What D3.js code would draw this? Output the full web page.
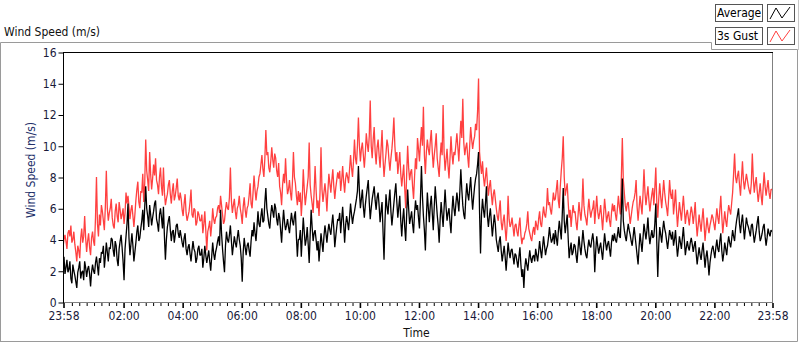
<!DOCTYPE html>
<html><head><meta charset="utf-8">
<script src="https://cdn.jsdelivr.net/npm/d3@7/dist/d3.min.js"></script>
<style>
html,body{margin:0;padding:0;background:#fff;}
svg{display:block;}
text{font-family:"DejaVu Sans Condensed","DejaVu Sans",sans-serif;font-size:12px;}
</style></head>
<body>
<svg id="c" width="800" height="342"></svg>
<script>
// ---- data (one sample every 2 minutes, 23:58 -> 23:58 next day) ----
const seriesNames = ["Average", "3s Gust"];
const yTicks = [0, 2, 4, 6, 8, 10, 12, 14, 16];
const xTickLabels = ["23:58","02:00","04:00","06:00","08:00","10:00","12:00","14:00","16:00","18:00","20:00","22:00","23:58"];
const sampleMinutes = 2;
const average = [
2.4,2.9,1.8,2.2,2.7,1.9,2.1,2.6,1.5,1.2,2.4,2.0,1.7,1.3,0.9,1.9,2.2,2.6,1.5,1.9,
2.0,1.4,2.6,2.2,1.6,2.1,2.3,1.8,1.0,1.9,2.4,2.0,1.8,2.5,2.9,2.3,1.7,2.8,2.5,3.2,
3.1,3.6,2.2,2.9,3.8,3.2,2.6,3.5,3.4,4.1,4.0,3.3,2.9,3.9,3.6,2.7,2.3,3.4,3.9,4.3,
3.5,2.6,1.4,3.4,4.2,5.0,6.3,4.1,3.0,3.7,4.4,3.6,2.6,3.2,3.8,4.5,4.9,3.9,4.1,4.7,
5.2,5.9,4.6,6.1,7.4,6.0,5.5,4.8,6.2,5.6,4.9,5.4,5.8,6.3,6.5,5.3,5.0,4.5,5.6,6.0,
5.4,4.7,6.1,4.2,2.7,4.0,4.8,5.2,5.5,4.6,3.9,4.5,4.6,3.8,4.3,4.9,5.0,4.4,4.1,4.6,
4.2,3.8,3.5,4.1,4.4,3.4,3.0,3.5,3.7,3.1,2.6,3.3,3.9,3.4,3.2,2.5,2.8,3.4,3.6,3.0,
3.0,3.4,2.2,2.8,3.6,3.0,2.5,2.9,3.3,2.6,2.0,2.9,3.8,3.1,2.7,3.2,3.5,3.9,4.2,3.6,
5.9,4.4,3.4,2.6,1.9,3.6,4.5,4.0,3.8,4.3,4.9,3.9,3.0,3.6,4.2,3.8,3.5,4.1,4.6,4.0,
3.6,2.8,1.3,3.2,4.1,3.5,3.0,3.6,3.8,3.3,2.9,3.9,4.6,4.2,5.1,4.4,3.9,4.8,5.8,5.0,
4.8,5.5,6.0,5.1,5.2,6.4,7.3,6.0,5.5,5.0,4.7,5.6,6.2,5.8,5.4,6.3,6.0,5.3,4.9,5.7,
5.4,4.6,3.8,5.0,5.9,5.1,4.6,4.9,5.3,4.8,4.4,5.1,5.7,5.2,4.9,5.5,5.8,4.2,2.9,4.0,
4.0,4.6,2.9,4.2,5.4,4.5,3.6,4.0,4.8,3.7,2.5,4.3,5.9,4.8,3.9,4.4,4.6,4.0,3.3,3.9,
2.6,3.5,4.4,3.8,3.2,4.2,4.9,4.4,3.8,4.5,5.0,4.6,4.3,5.0,5.6,4.7,3.5,4.2,4.8,5.3,
5.2,5.7,4.4,5.3,6.1,5.0,3.8,4.9,5.5,5.1,4.6,5.4,6.3,5.6,5.0,5.5,5.8,6.2,6.6,7.1,
8.7,7.1,6.0,6.6,7.2,6.1,5.4,6.2,6.8,7.3,7.8,6.4,5.3,6.0,6.6,7.0,7.4,6.5,5.9,6.7,
7.0,6.2,5.1,5.8,6.4,4.5,2.7,5.2,6.9,6.1,5.6,6.5,7.2,5.8,4.9,5.6,6.3,7.0,7.6,6.4,
5.4,6.1,6.8,5.2,4.2,5.3,6.0,4.8,3.9,5.6,7.2,6.0,5.0,5.4,5.8,5.0,4.4,5.7,6.5,5.9,
6.2,5.4,4.7,6.6,8.7,6.8,5.5,4.6,3.3,5.4,7.0,6.0,5.1,6.2,6.8,5.7,4.6,6.1,7.4,6.5,
5.6,4.9,3.8,5.3,6.4,5.6,4.8,6.0,7.2,6.1,5.2,5.7,6.0,5.1,4.4,5.8,6.8,6.0,5.5,6.3,
7.0,6.4,5.8,7.1,8.5,7.2,6.2,5.6,5.3,6.6,7.6,6.9,6.5,7.3,8.0,6.8,5.9,6.7,7.4,7.9,
8.2,8.8,9.6,5.8,3.1,5.6,6.6,5.9,5.4,6.3,7.4,5.5,4.8,5.5,6.0,5.1,4.2,4.9,5.6,5.0,
4.0,3.6,3.2,3.9,4.2,3.3,2.6,3.1,3.6,2.9,2.0,2.9,3.8,3.2,2.8,3.3,3.4,2.9,2.4,3.1,
3.0,2.6,2.2,2.9,3.5,2.4,1.6,2.1,0.9,2.2,2.8,2.4,2.0,2.7,3.3,2.8,2.5,2.9,3.0,2.6,
3.4,3.0,2.6,3.2,3.9,3.3,2.8,3.5,4.2,3.6,3.0,3.4,3.6,4.1,4.8,4.2,3.8,4.0,4.4,3.7,
4.6,4.1,3.6,4.5,5.2,4.6,4.0,5.6,7.3,5.2,4.4,5.0,5.6,4.1,2.8,3.4,3.8,3.0,3.2,3.7,
3.6,3.0,2.5,3.4,4.2,3.5,3.0,3.8,4.6,3.9,3.4,3.0,2.8,3.5,4.0,3.6,3.5,4.0,4.4,3.8,
1.9,3.3,4.2,3.6,3.1,3.5,3.8,3.2,2.7,3.6,4.4,3.8,3.3,3.7,3.9,3.4,2.9,3.8,4.3,3.9,
4.4,4.0,3.8,4.3,4.8,4.2,4.1,5.8,7.9,5.2,4.6,4.2,3.9,4.5,5.0,4.6,4.3,3.9,3.6,4.2,
4.8,4.2,3.6,3.0,2.4,3.5,4.4,3.8,3.2,4.1,5.0,4.5,4.0,4.6,5.4,4.3,3.7,4.2,4.6,4.1,
4.2,5.0,6.3,3.8,1.6,3.7,4.8,4.3,3.8,4.6,5.2,4.7,4.4,3.9,3.4,4.0,4.6,4.3,4.0,4.5,
3.6,4.0,4.6,3.7,2.9,3.5,4.2,3.8,3.4,4.1,4.8,3.9,3.0,3.5,3.9,3.5,3.3,3.8,4.1,3.7,
3.2,3.6,3.9,3.1,2.4,3.0,3.5,3.0,2.7,3.3,3.8,3.0,2.2,2.9,3.3,2.6,1.7,2.5,3.0,3.4,
3.6,3.2,2.8,3.5,4.0,3.4,3.2,3.9,4.4,3.3,2.6,3.1,3.8,3.4,3.0,3.7,4.2,3.8,3.5,4.0,
4.6,4.2,3.9,4.7,5.2,5.6,6.0,5.0,4.4,5.1,5.6,4.8,4.0,4.7,5.4,5.0,4.8,4.5,4.2,4.9,
5.0,4.4,3.8,4.2,4.6,5.1,5.5,4.5,3.9,4.1,4.4,4.8,5.0,4.2,3.6,4.1,4.7,4.4,4.2,4.6,
4.5];
const gust = [
3.5,4.0,4.3,3.9,3.4,4.4,4.6,4.2,4.9,3.8,4.0,4.5,3.7,3.2,2.6,3.6,3.3,2.8,4.1,4.7,
3.8,4.2,5.5,4.1,3.2,3.9,4.4,3.5,3.0,4.1,4.5,3.9,3.6,5.4,8.0,5.0,4.2,5.6,4.9,6.2,
5.8,5.2,4.6,6.1,8.4,6.0,5.2,5.7,6.0,6.6,5.4,4.9,4.7,5.8,6.3,5.5,5.1,6.4,5.9,5.3,
5.6,6.0,5.0,5.7,7.0,6.3,6.8,6.1,5.3,5.9,6.2,5.5,4.8,5.6,6.5,7.2,7.7,6.4,6.0,7.1,
7.0,8.2,6.4,7.6,10.4,8.4,7.8,7.1,9.6,8.2,7.2,7.9,8.8,8.1,9.2,7.8,7.5,6.9,8.0,8.6,
7.4,6.8,8.6,7.0,6.2,6.6,6.9,7.5,7.8,6.9,6.3,7.1,7.6,6.5,6.8,7.3,7.9,6.8,6.5,7.0,
6.6,5.9,5.5,6.3,6.9,5.7,5.2,5.5,5.8,6.4,7.2,5.6,5.4,6.0,5.9,4.9,5.1,5.8,5.6,5.2,
5.2,5.6,4.4,5.0,5.8,4.6,3.3,4.5,4.8,5.2,4.2,4.9,6.0,5.3,5.0,5.4,5.5,6.0,6.2,5.7,
6.8,6.2,5.6,5.0,5.2,5.9,6.4,6.0,5.9,6.7,8.6,6.5,5.7,6.2,6.6,5.8,5.3,6.0,6.2,6.8,
6.0,5.6,5.0,6.1,6.7,5.9,5.4,6.0,6.2,6.8,7.6,6.3,6.0,7.0,8.1,7.2,6.5,7.1,7.4,8.0,
8.2,8.8,9.4,8.5,8.0,9.2,11.0,9.4,9.6,8.6,8.3,9.0,9.9,9.1,8.6,9.5,9.2,8.4,8.0,8.9,
7.4,7.0,6.2,7.5,8.2,7.6,9.2,7.8,6.9,7.2,7.8,7.0,6.5,7.7,9.6,8.0,7.6,6.8,6.2,7.1,
6.4,7.0,5.5,6.6,8.5,7.2,6.2,6.8,7.4,8.0,10.2,7.5,6.8,6.3,5.7,7.0,8.7,7.2,6.0,6.5,
5.5,7.0,9.9,7.2,6.4,7.0,7.6,6.9,5.8,7.1,8.2,7.6,7.0,7.8,8.5,7.4,6.6,7.3,7.8,8.3,
7.9,8.4,7.1,7.8,8.7,7.7,7.0,7.9,8.3,8.0,7.6,8.5,9.4,8.6,8.0,9.0,10.4,9.2,8.8,10.0,
11.8,10.0,9.0,9.8,10.2,9.4,8.6,9.5,10.8,10.1,9.6,10.6,12.9,10.0,9.2,10.4,11.2,9.6,8.8,9.9,
10.4,9.4,8.6,9.8,11.0,9.2,8.0,8.8,9.5,10.4,10.0,9.1,8.4,9.2,9.8,10.6,11.8,10.0,9.0,9.6,
8.2,8.9,9.6,8.2,7.4,8.1,8.8,7.3,6.0,8.2,10.0,8.6,7.8,8.3,8.5,7.4,6.6,8.0,9.2,8.5,
10.5,9.8,9.0,10.2,11.2,10.0,12.5,9.4,8.2,9.6,10.4,9.8,9.4,10.3,11.0,9.6,8.6,9.4,10.0,10.8,
9.2,8.6,8.0,9.3,10.2,9.4,12.6,9.6,8.4,9.1,9.8,8.7,7.9,9.2,10.6,9.5,8.8,9.6,9.4,10.1,
10.8,9.9,9.0,10.4,11.6,10.5,13.0,10.2,9.4,9.9,10.2,9.3,8.6,10.0,11.2,10.4,9.8,10.3,10.6,11.4,
11.0,12.2,14.3,9.6,8.8,8.2,9.0,8.0,7.4,8.0,8.6,7.6,6.8,7.4,7.8,6.9,6.2,6.9,7.2,6.6,
6.0,5.5,5.2,5.9,6.5,5.1,4.6,5.2,5.6,4.7,3.9,4.9,6.8,5.3,4.8,5.0,5.4,4.8,4.2,4.9,
5.0,4.5,4.2,4.9,5.4,4.3,3.7,4.1,4.0,4.4,4.6,5.0,5.8,4.7,4.4,4.1,3.9,4.5,4.8,4.3,
5.2,4.9,4.6,5.3,5.8,5.0,4.8,5.5,6.1,5.6,5.4,6.0,7.3,6.2,6.4,5.9,5.6,6.3,7.0,6.5,
6.6,7.2,7.8,6.5,6.0,7.4,8.4,9.2,10.6,8.0,6.8,7.2,7.6,6.4,5.4,5.9,4.8,5.6,6.2,5.7,
5.8,5.1,4.6,5.5,6.4,5.7,5.2,6.1,7.9,6.2,5.6,5.3,4.9,5.8,6.6,5.9,5.4,5.8,6.0,6.5,
5.0,5.9,6.8,5.8,5.3,5.7,6.2,5.4,4.6,5.6,6.6,5.9,5.1,5.5,5.8,5.2,4.8,5.7,6.3,5.8,
6.2,5.6,5.2,6.0,6.8,6.1,5.6,8.0,10.5,7.8,7.0,6.2,5.8,6.3,6.4,5.7,5.0,5.5,6.0,6.4,
6.6,7.0,7.8,6.1,5.2,6.0,6.8,6.2,5.6,6.9,8.5,7.0,6.2,6.8,7.4,6.5,5.8,6.4,6.9,7.3,
6.2,7.3,8.6,6.4,5.4,6.6,7.6,6.7,6.0,6.9,7.8,7.0,6.4,6.0,5.5,6.6,7.8,6.9,6.6,7.2,
5.6,6.3,7.2,5.9,4.8,5.6,6.4,5.8,5.2,6.0,6.8,5.9,5.0,5.6,5.9,5.4,4.9,5.6,6.1,5.7,
5.0,5.6,6.4,5.1,4.2,4.9,5.6,5.0,4.5,5.3,6.0,5.0,3.9,4.7,5.4,4.8,4.4,4.9,5.2,5.6,
5.4,5.0,4.6,5.3,6.0,5.4,5.0,5.9,6.8,5.5,4.4,5.1,5.8,5.2,4.8,5.6,6.2,5.9,5.6,6.3,
7.0,8.2,9.5,8.0,7.6,8.1,8.4,7.5,6.8,7.9,9.0,7.8,7.2,7.7,8.2,7.8,7.4,7.1,6.9,7.6,
9.5,7.9,7.0,7.6,8.0,7.1,6.4,7.0,7.6,6.8,6.2,7.3,8.3,7.4,6.8,7.3,7.8,7.0,6.6,7.2,
7.2];

// ---- layout ----
const svg = d3.select("#c");
const L = 63, R = 772, T = 52, B = 302;
const t0 = new Date(2020, 0, 1, 23, 58);
const t1 = new Date(2020, 0, 2, 23, 58);
const x = d3.scaleTime().domain([t0, t1]).range([L, R]);
const y = d3.scaleLinear().domain([0, 16]).range([B, T]);
const timeOf = i => new Date(t0.getTime() + i * sampleMinutes * 60000);

// outer frame
svg.append("path").attr("d", `M0.5,342 V42.5 H711.5 V49.5 H797.5 V341.5 H0.5`)
  .attr("fill", "none").attr("stroke", "#9a9a9a");
svg.append("line").attr("x1", 798.5).attr("x2", 798.5).attr("y1", 0).attr("y2", 50)
  .attr("stroke", "#c8c8c8");

// title
svg.append("text").attr("x", 4).attr("y", 36).attr("fill", "#111").text("Wind Speed (m/s)");

// legend
const legRows = [{name: seriesNames[0], color: "#000"}, {name: seriesNames[1], color: "#ff4040"}];
legRows.forEach((r, i) => {
  const yy = 4 + i * 23;
  svg.append("rect").attr("x", 715.5).attr("y", yy + 0.5).attr("width", 47).attr("height", 17)
    .attr("fill", "#fff").attr("stroke", "#555");
  svg.append("text").attr("x", 717).attr("y", yy + 13).attr("fill", "#000").text(r.name);
  svg.append("rect").attr("x", 767.5).attr("y", yy + 0.5).attr("width", 27).attr("height", 17)
    .attr("fill", "#fff").attr("stroke", "#555");
  svg.append("path").attr("d", `M770,${yy + 15} L776,${yy + 4} L782,${yy + 14} L790,${yy + 3}`)
    .attr("fill", "none").attr("stroke", r.color).attr("stroke-width", 1);
});

// plot borders
svg.append("line").attr("x1", R + 0.5).attr("x2", R + 0.5).attr("y1", T).attr("y2", B + 1).attr("stroke", "#808080");
svg.append("line").attr("x1", L).attr("x2", R + 1).attr("y1", B + 0.5).attr("y2", B + 0.5).attr("stroke", "#808080");
svg.append("line").attr("x1", L).attr("x2", R + 1).attr("y1", T + 0.5).attr("y2", T + 0.5).attr("stroke", "#000");
svg.append("line").attr("x1", L + 0.5).attr("x2", L + 0.5).attr("y1", T).attr("y2", B + 1).attr("stroke", "#000");

// y axis
const yAxis = svg.append("g").attr("transform", `translate(${L + 0.5},0.5)`)
  .call(d3.axisLeft(y).tickValues(yTicks).tickSize(5).tickPadding(2).tickFormat(d3.format("d")));
yAxis.select(".domain").remove();
yAxis.selectAll("text").attr("fill", "#1a1a3a").style("font-size", "12px");
yAxis.selectAll("line").attr("stroke", "#000");

// x axis: minor and major ticks
const majorTimes = [t0];
for (let h = 2; h <= 22; h += 2) majorTimes.push(new Date(2020, 0, 2, h, 0));
majorTimes.push(t1);
const minorTimes = d3.timeMinute.every(15).range(t0, t1).filter(d => d.getMinutes() !== 0 || d.getHours() % 2 !== 0);
const xAxisMinor = svg.append("g").attr("transform", `translate(0.5,${B + 1})`)
  .call(d3.axisBottom(x).tickValues(minorTimes).tickSize(3).tickFormat(""));
xAxisMinor.select(".domain").remove();
xAxisMinor.selectAll("line").attr("stroke", "#000");
const xAxis = svg.append("g").attr("transform", `translate(0.5,${B + 1})`)
  .call(d3.axisBottom(x).tickValues(majorTimes).tickSize(5).tickPadding(3)
    .tickFormat((d, i) => xTickLabels[i]));
xAxis.select(".domain").remove();
xAxis.selectAll("line").attr("stroke", "#000").attr("stroke-width", 1.6);
xAxis.selectAll("text").attr("fill", "#1a1a3a").style("font-size", "12px");

// axis titles
svg.append("text").attr("x", (L + R) / 2 - 1).attr("y", 337).attr("text-anchor", "middle")
  .attr("fill", "#111").text("Time");
svg.append("text").attr("transform", "translate(35,170) rotate(-90)").attr("text-anchor", "middle")
  .attr("fill", "#23306a").text("Wind Speed (m/s)");

// series
svg.append("clipPath").attr("id", "pc").append("rect")
  .attr("x", L + 1).attr("y", T + 1).attr("width", R - L - 1).attr("height", B - T);
const line = d3.line().x((d, i) => x(timeOf(i))).y(d => y(d));
const g = svg.append("g").attr("clip-path", "url(#pc)");
g.append("path").datum(gust).attr("d", line).attr("fill", "none").attr("stroke", "#ff4040")
  .attr("stroke-width", 1.3).attr("stroke-linejoin", "bevel");
g.append("path").datum(average).attr("d", line).attr("fill", "none").attr("stroke", "#000")
  .attr("stroke-width", 1.3).attr("stroke-linejoin", "bevel");
</script>
</body></html>
